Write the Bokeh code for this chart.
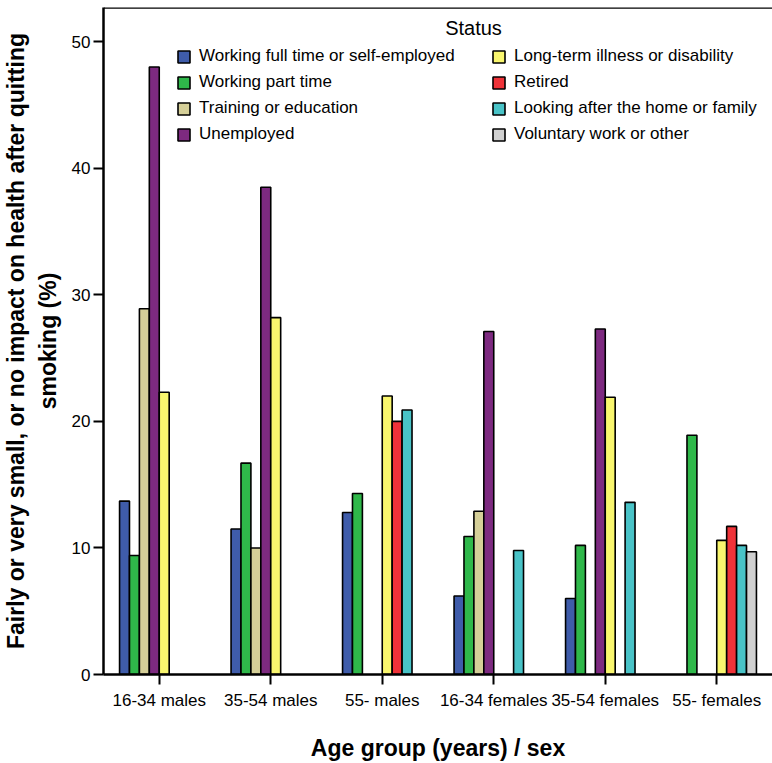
from bokeh.plotting import figure
from bokeh.models import (ColumnDataSource, FactorRange, Range1d, Legend, LegendItem,
                          Label, Span, SingleIntervalTicker)
from bokeh.transform import dodge
from bokeh.embed import file_html
from bokeh.resources import INLINE

# Age group / sex categories along the x axis
groups = ["16-34 males", "35-54 males", "55- males",
          "16-34 females", "35-54 females", "55- females"]

# Percentage reporting a fairly/very small or no health impact, by status
full_time = [13.7, 11.5, 12.8, 6.2, 6.0, None]
part_time = [9.4, 16.7, 14.3, 10.9, 10.2, 18.9]
training = [28.9, 10.0, None, 12.9, None, None]
unemployed = [48.0, 38.5, None, 27.1, 27.3, None]
illness = [22.3, 28.2, 22.0, None, 21.9, 10.6]
retired = [None, None, 20.0, None, None, 11.7]
home_family = [None, None, 20.9, 9.8, 13.6, 10.2]
voluntary = [None, None, None, None, None, 9.7]

status_names = ["Working full time or self-employed", "Working part time",
                "Training or education", "Unemployed",
                "Long-term illness or disability", "Retired",
                "Looking after the home or family", "Voluntary work or other"]
status_values = [full_time, part_time, training, unemployed,
                 illness, retired, home_family, voluntary]
status_colors = ["#3f5caa", "#2fb84a", "#d5cf98", "#7d2a80",
                 "#f9f66e", "#ef3339", "#49c3c7", "#d0d0d0"]

FONT = "Liberation Sans"
bar_w = 0.089

p = figure(width=772, height=763, x_range=FactorRange(*groups),
           y_range=Range1d(0, 52.7), output_backend="svg", toolbar_location=None,
           min_border_left=100, min_border_right=0, min_border_top=7,
           min_border_bottom=87)
p.background_fill_color = "white"
p.border_fill_color = "white"
p.outline_line_color = None
p.xgrid.visible = False
p.ygrid.visible = False
p.x_range.range_padding = 0

renderers = []
for i, (name, vals, col) in enumerate(zip(status_names, status_values, status_colors)):
    xs = [g for g, v in zip(groups, vals) if v is not None]
    ys = [v for v in vals if v is not None]
    src = ColumnDataSource(dict(cat=xs, val=ys))
    r = p.vbar(x=dodge("cat", (i - 3.5) * bar_w, range=p.x_range), top="val",
               width=bar_w, source=src, fill_color=col, line_color="black",
               line_width=1.6)
    renderers.append(r)

# frame top edge
p.add_layout(Span(location=52.7, dimension="width", line_color="black", line_width=2.5))

# axes
for ax in (p.xaxis[0], p.yaxis[0]):
    ax.axis_line_color = "black"
    ax.axis_line_width = 2.5
    ax.major_tick_line_color = "black"
    ax.major_tick_line_width = 2
    ax.major_tick_in = 0
    ax.major_tick_out = 10
    ax.minor_tick_line_color = None
    ax.major_label_text_font = FONT
    ax.major_label_text_font_size = "17px"
    ax.major_label_text_color = "black"
    ax.axis_label_text_font = FONT
    ax.axis_label_text_font_style = "bold"
    ax.axis_label_text_font_size = "23px"
    ax.axis_label_text_color = "black"

p.yaxis.ticker = SingleIntervalTicker(interval=10)
p.yaxis.major_label_standoff = 3
p.yaxis.axis_label = "Fairly or very small, or no impact on health after quitting\nsmoking (%)"
p.yaxis.axis_label_standoff = 8
p.xaxis.axis_label = "Age group (years) / sex"
p.xaxis.major_label_standoff = 6
p.xaxis.axis_label_standoff = 22
p.xaxis.group_text_font_size = "0px"

# two-column legend
def make_legend(items, x_off):
    lg = Legend(items=items, location=(x_off, 530), orientation="vertical",
                glyph_width=15, glyph_height=15, label_height=14,
                label_standoff=8, spacing=6, padding=0, margin=0,
                border_line_color=None, background_fill_alpha=0,
                label_text_font=FONT, label_text_font_size="17px",
                label_text_color="black")
    return lg

items = [LegendItem(label=n, renderers=[r]) for n, r in zip(status_names, renderers)]
p.add_layout(make_legend(items[:4], 73), "center")
p.add_layout(make_legend(items[4:], 388), "center")

p.add_layout(Label(x=370, y=647, x_units="screen", y_units="screen", text="Status",
                   text_align="center", text_baseline="middle", text_font=FONT,
                   text_font_size="20px", text_color="black"))

open("out.html", "w").write(file_html(p, INLINE))
